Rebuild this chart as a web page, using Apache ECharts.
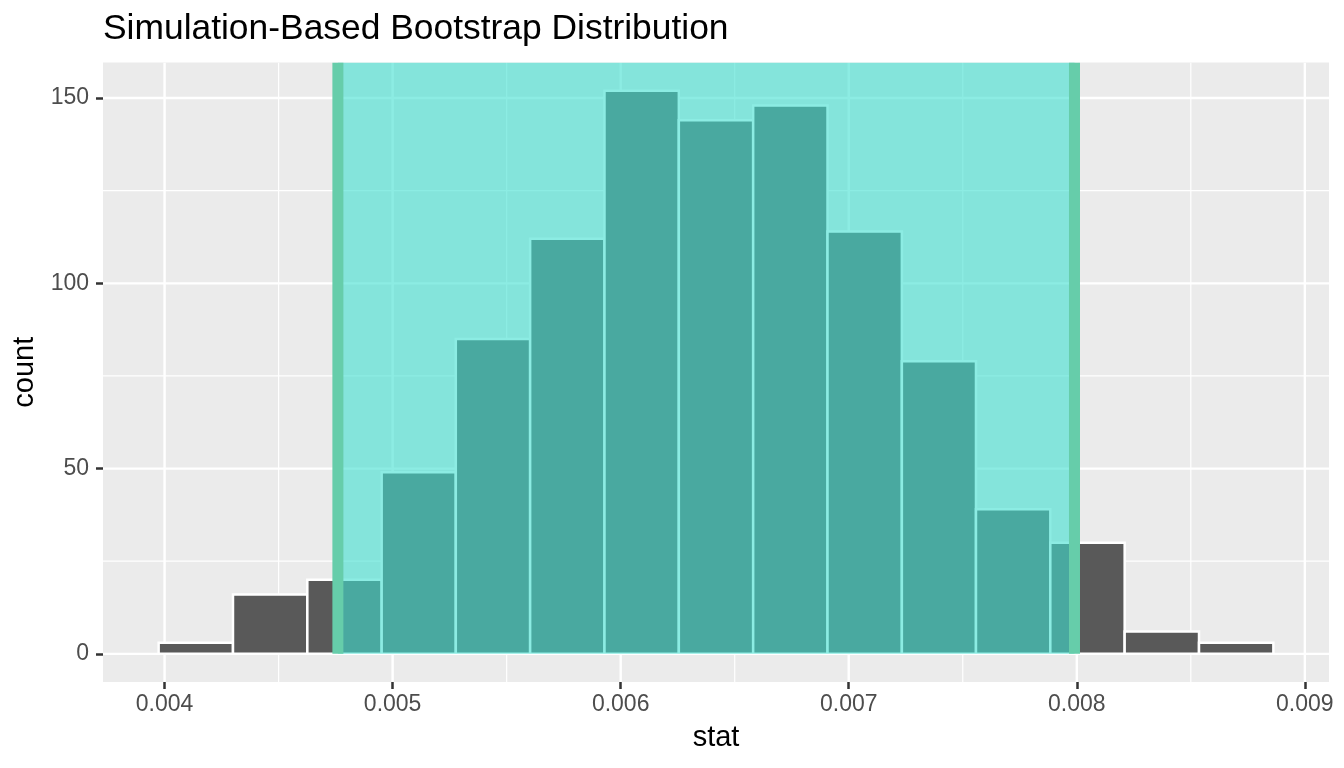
<!DOCTYPE html>
<html><head><meta charset="utf-8">
<script src="https://cdn.jsdelivr.net/npm/echarts@6/dist/echarts.min.js"></script>
<style>html,body{margin:0;padding:0;background:#fff}#c{width:1344px;height:768px}</style>
</head><body><div id="c"></div>
<script>
// Histogram bin edges (16 edges -> 15 bins) and counts
const binEdges = [0.003974, 0.004300, 0.004626, 0.004952, 0.005277, 0.005603, 0.005929, 0.006255,
                  0.006581, 0.006907, 0.007233, 0.007558, 0.007884, 0.008210, 0.008536, 0.008862];
const counts = [3, 16, 20, 49, 85, 112, 152, 144, 148, 114, 79, 39, 30, 6, 3];
// Confidence interval endpoints
const ciBounds = [0.00476, 0.00799];
// Tick labels / grid values
const xTicks = [0.004, 0.005, 0.006, 0.007, 0.008, 0.009];
const xMinor = [0.0045, 0.0055, 0.0065, 0.0075, 0.0085];
const yTicks = [0, 50, 100, 150];
const yMinor = [25, 75, 125];

const FONT = '"Liberation Sans", Arial, Helvetica, sans-serif';
const X_MIN = 0.00373, X_MAX = 0.009106, Y_MIN = -7.6, Y_MAX = 159.6;

const barData = counts.map((c, i) => [binEdges[i], binEdges[i + 1], c]);

function vGrid(width) {
  return function (params, api) {
    const cs = params.coordSys;
    const p = api.coord([api.value(0), 0]);
    return { type: 'line', shape: { x1: p[0], y1: cs.y, x2: p[0], y2: cs.y + cs.height },
      style: { stroke: '#FFFFFF', lineWidth: width } };
  };
}
function hGrid(width) {
  return function (params, api) {
    const cs = params.coordSys;
    const p = api.coord([X_MIN, api.value(1)]);
    return { type: 'line', shape: { x1: cs.x, y1: p[1], x2: cs.x + cs.width, y2: p[1] },
      style: { stroke: '#FFFFFF', lineWidth: width } };
  };
}

const chart = echarts.init(document.getElementById('c'), null, { renderer: 'canvas' });
chart.setOption({
  animation: false,
  backgroundColor: '#FFFFFF',
  textStyle: { fontFamily: FONT },
  title: {
    text: 'Simulation-Based Bootstrap Distribution',
    left: 103, top: 12, padding: 0,
    textStyle: { fontFamily: FONT, fontSize: 35.4, fontWeight: 'normal', color: '#000000' }
  },
  grid: { left: 103, right: 15, top: 62.5, bottom: 86, show: true, backgroundColor: '#EBEBEB', borderWidth: 0, containLabel: false },
  xAxis: {
    type: 'value', min: X_MIN, max: X_MAX,
    axisLine: { show: false, onZero: false },
    splitLine: { show: false },
    axisTick: { show: true, customValues: xTicks, length: 7, lineStyle: { color: '#333333', width: 2.5 } },
    axisLabel: { customValues: xTicks, color: '#4D4D4D', fontSize: 23, fontFamily: FONT, margin: 11,
      formatter: v => v.toFixed(3) },
    name: 'stat', nameLocation: 'middle', nameGap: 41,
    nameTextStyle: { fontSize: 29, color: '#000000', fontFamily: FONT }
  },
  yAxis: {
    type: 'value', min: Y_MIN, max: Y_MAX,
    axisLine: { show: false, onZero: false },
    splitLine: { show: false },
    axisTick: { show: true, customValues: yTicks, length: 7, lineStyle: { color: '#333333', width: 2.5 } },
    axisLabel: { customValues: yTicks, color: '#4D4D4D', fontSize: 23, fontFamily: FONT, margin: 14,
      formatter: v => String(v) },
    name: 'count', nameLocation: 'middle', nameGap: 61, nameRotate: 90,
    nameTextStyle: { fontSize: 29, color: '#000000', fontFamily: FONT }
  },
  series: [
    { type: 'custom', silent: true, z: 1, clip: true, renderItem: vGrid(1.2), data: xMinor.map(v => [v, 0]) },
    { type: 'custom', silent: true, z: 1, clip: true, renderItem: hGrid(1.2), data: yMinor.map(v => [X_MIN, v]) },
    { type: 'custom', silent: true, z: 1, clip: true, renderItem: vGrid(2.4), data: xTicks.map(v => [v, 0]) },
    { type: 'custom', silent: true, z: 1, clip: true, renderItem: hGrid(2.4), data: yTicks.map(v => [X_MIN, v]) },
    {
      type: 'custom', z: 2, clip: true,
      encode: { x: [0, 1], y: 2 },
      data: barData,
      renderItem: function (params, api) {
        const p0 = api.coord([api.value(0), 0]);
        const p1 = api.coord([api.value(1), api.value(2)]);
        return { type: 'rect',
          shape: { x: p0[0], y: p1[1], width: p1[0] - p0[0], height: p0[1] - p1[1] },
          style: { fill: '#595959', stroke: '#FFFFFF', lineWidth: 2.5 } };
      }
    },
    {
      type: 'custom', z: 3, clip: true, silent: true,
      encode: { x: [0, 1] },
      data: [ciBounds],
      renderItem: function (params, api) {
        const cs = params.coordSys;
        const a = api.coord([api.value(0), 0]);
        const b = api.coord([api.value(1), 0]);
        return { type: 'group', children: [
          { type: 'rect', shape: { x: a[0], y: cs.y, width: b[0] - a[0], height: a[1] - cs.y },
            style: { fill: 'rgba(64,224,208,0.6)' } },
          { type: 'line', shape: { x1: a[0], y1: a[1], x2: a[0], y2: cs.y },
            style: { stroke: '#66CDAA', lineWidth: 11 } },
          { type: 'line', shape: { x1: b[0], y1: b[1], x2: b[0], y2: cs.y },
            style: { stroke: '#66CDAA', lineWidth: 11 } }
        ] };
      }
    }
  ]
});
</script>
</body></html>
